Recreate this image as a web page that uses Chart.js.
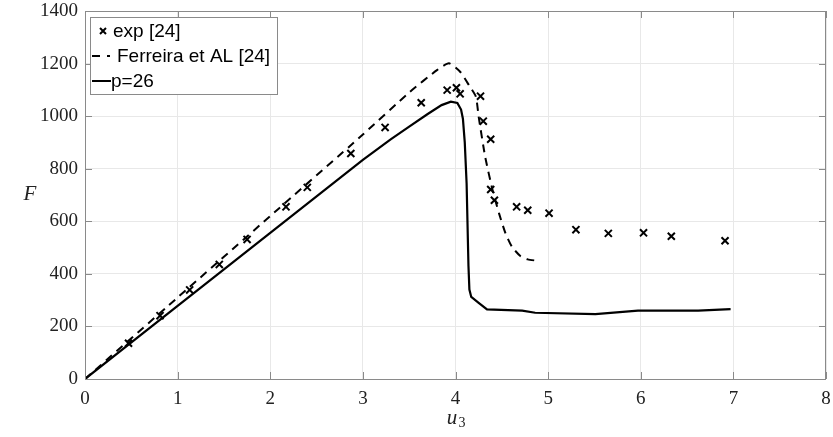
<!DOCTYPE html>
<html lang="en">
<head>
    <meta charset="UTF-8">
    <title>F vs u3</title>
    <script src="https://cdn.jsdelivr.net/npm/chart.js"></script>
    <style>
        html, body { margin: 0; padding: 0; background: #fff; }
        #wrap { width: 833px; height: 437px; }
    </style>
</head>
<body>
    <div id="wrap"><canvas id="forceChart" width="833" height="437"></canvas></div>

    <script>
        // experimental points, exp [24]
        const expU = [0.47, 0.81, 1.13, 1.45, 1.75, 2.17, 2.40, 2.87, 3.24, 3.63, 3.91, 4.01, 4.05,
                      4.27, 4.30, 4.38, 4.38, 4.42, 4.66, 4.78, 5.01, 5.30, 5.65, 6.03, 6.33, 6.91];
        const expF = [136, 241, 339, 436, 531, 655, 729, 858, 957, 1051, 1099, 1108, 1085,
                      1076, 981, 912, 721, 680, 655, 642, 631, 568, 554, 556, 543, 526];

        // Ferreira et AL [24]
        const ferU = [0, 1, 2, 3, 3.5, 3.8, 3.93, 4.05, 4.15, 4.22, 4.25, 4.32, 4.40, 4.47, 4.54, 4.61, 4.70, 4.78, 4.88];
        const ferF = [0, 310, 620, 930, 1090, 1175, 1201, 1169, 1115, 1074, 998, 846, 719, 630, 554, 503, 468, 455, 450];

        // p=26
        const pU = [0, 1, 2, 3, 3.3, 3.5, 3.7, 3.85, 3.95, 4.02, 4.06, 4.08, 4.10, 4.12, 4.14, 4.15, 4.17,
                    4.25, 4.34, 4.72, 4.86, 5.51, 5.97, 6.62, 6.97];
        const pF = [0, 278, 556, 834, 912, 960, 1008, 1042, 1055, 1050, 1025, 990, 900, 744, 430, 340, 312,
                    290, 265, 260, 252, 247, 260, 260, 266];

        const xTicks = [0, 1, 2, 3, 4, 5, 6, 7, 8];
        const yTicks = [0, 200, 400, 600, 800, 1000, 1200, 1400];

        const legendLabels = ["exp [24]", "Ferreira et AL [24]", "p=26"];

        function pts(xs, ys) {
            return xs.map((x, i) => ({ x: x, y: ys[i] }));
        }

        const serif = "'Liberation Serif', 'DejaVu Serif', serif";
        const sans = "'Liberation Sans', Arial, sans-serif";
        const boxColor = "#8a8a8a";

        // box, inward ticks, axis titles and legend, matlab style
        const decor = {
            id: "decor",
            afterDraw(chart) {
                const ctx = chart.ctx;
                const a = chart.chartArea;
                const xs = chart.scales.x, ys = chart.scales.y;
                ctx.save();
                ctx.strokeStyle = boxColor;
                ctx.lineWidth = 1;
                ctx.strokeRect(a.left + 0.5, a.top + 0.5, a.right - a.left - 1, a.bottom - a.top);
                ctx.beginPath();
                xTicks.forEach(t => {
                    const px = Math.round(xs.getPixelForValue(t)) + 0.5;
                    ctx.moveTo(px, a.bottom); ctx.lineTo(px, a.bottom - 7);
                    ctx.moveTo(px, a.top); ctx.lineTo(px, a.top + 7);
                });
                yTicks.forEach(t => {
                    const py = Math.round(ys.getPixelForValue(t)) + 0.5;
                    ctx.moveTo(a.left, py); ctx.lineTo(a.left + 7, py);
                    ctx.moveTo(a.right, py); ctx.lineTo(a.right - 7, py);
                });
                ctx.stroke();

                // axis titles
                ctx.fillStyle = "#222";
                ctx.font = "italic 21px " + serif;
                ctx.textAlign = "center";
                ctx.textBaseline = "middle";
                ctx.fillText("F", 30, 194);
                ctx.fillText("u", 452, 418);
                ctx.font = "14px " + serif;
                ctx.fillText("3", 462, 423);

                // legend
                const lx = 90, ly = 17, lw = 187, lh = 77;
                ctx.fillStyle = "#fff";
                ctx.fillRect(lx, ly, lw, lh);
                ctx.strokeStyle = "#8a8a8a";
                ctx.strokeRect(lx + 0.5, ly + 0.5, lw, lh);
                ctx.font = "19px " + sans;
                ctx.textAlign = "left";
                ctx.fillStyle = "#000";
                const rows = [31, 56, 81];
                ctx.strokeStyle = "#000";
                ctx.lineWidth = 2;
                // cross marker
                ctx.beginPath();
                ctx.moveTo(100, rows[0] - 3); ctx.lineTo(106, rows[0] + 3);
                ctx.moveTo(106, rows[0] - 3); ctx.lineTo(100, rows[0] + 3);
                ctx.stroke();
                // dashed sample
                ctx.beginPath();
                ctx.moveTo(92, rows[1]); ctx.lineTo(100, rows[1]);
                ctx.moveTo(107, rows[1]); ctx.lineTo(110, rows[1]);
                ctx.stroke();
                // solid sample
                ctx.beginPath();
                ctx.moveTo(92, rows[2]); ctx.lineTo(111, rows[2]);
                ctx.stroke();
                ctx.fillText(legendLabels[0], 113, rows[0] + 1);
                ctx.fillText(legendLabels[1], 117, rows[1] + 1);
                ctx.fillText(legendLabels[2], 111, rows[2] + 1);
                ctx.restore();
            }
        };

        const ctx = document.getElementById("forceChart").getContext("2d");
        new Chart(ctx, {
            type: "scatter",
            data: {
                datasets: [{
                    label: legendLabels[0],
                    data: pts(expU, expF),
                    pointStyle: "crossRot",
                    pointRadius: 5,
                    borderColor: "#000",
                    borderWidth: 2,
                    showLine: false
                }, {
                    label: legendLabels[1],
                    data: pts(ferU, ferF),
                    showLine: true,
                    borderColor: "#000",
                    borderWidth: 2,
                    borderDash: [8, 6],
                    pointRadius: 0,
                    tension: 0.2
                }, {
                    label: legendLabels[2],
                    data: pts(pU, pF),
                    showLine: true,
                    borderColor: "#000",
                    borderWidth: 2.2,
                    pointRadius: 0,
                    tension: 0
                }]
            },
            options: {
                responsive: false,
                animation: false,
                layout: { padding: { top: 11, right: 5, left: 0, bottom: 0 } },
                plugins: { legend: { display: false }, tooltip: { enabled: false } },
                scales: {
                    x: {
                        type: "linear",
                        min: 0, max: 8,
                        afterFit: s => { s.height = 58; s.paddingLeft = 0; s.paddingRight = 0; },
                        afterBuildTicks: s => { s.ticks = xTicks.map(v => ({ value: v })); },
                        grid: { color: "#e8e8e8", drawTicks: false },
                        border: { display: false },
                        ticks: { padding: 9, color: "#222", font: { family: serif, size: 19 },
                                 callback: v => String(v) }
                    },
                    y: {
                        type: "linear",
                        min: 0, max: 1400,
                        afterFit: s => { s.width = 85; s.paddingTop = 0; s.paddingBottom = 0; },
                        afterBuildTicks: s => { s.ticks = yTicks.map(v => ({ value: v })); },
                        grid: { color: "#e8e8e8", drawTicks: false },
                        border: { display: false },
                        ticks: { padding: 7, color: "#222", font: { family: serif, size: 19 },
                                 callback: v => String(v) }
                    }
                }
            },
            plugins: [decor]
        });
    </script>
</body>
</html>
